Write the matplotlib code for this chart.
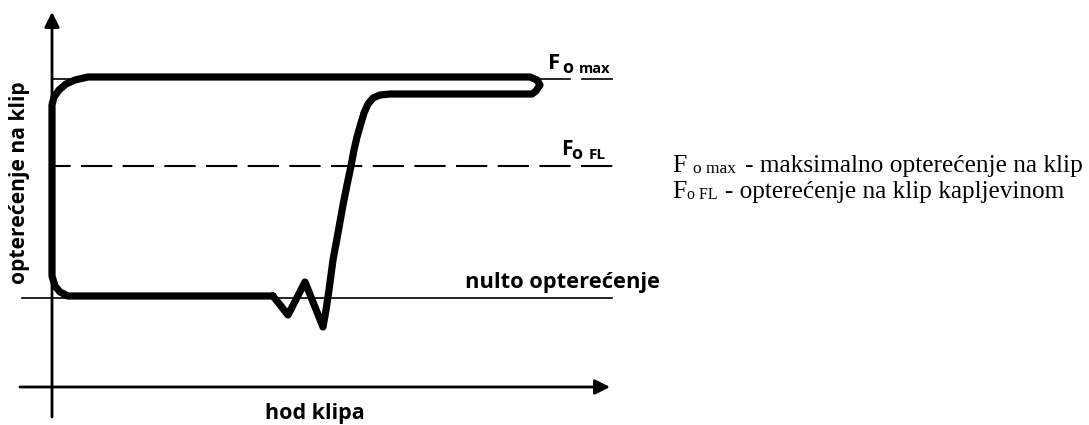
import matplotlib
matplotlib.use("Agg")
import matplotlib.pyplot as plt

# ---- data (stroke / load, arbitrary units, origin at axis crossing) ----
stroke = [221, 16, 8, 3, 0, 0, 2, 7, 14, 23, 36, 478, 485, 488, 484, 480,
          338, 328, 321, 316, 312, 309, 305, 302, 299, 295, 291, 286, 281,
          277, 274, 271, 253, 236, 221]
load = [91, 91, 95, 101, 111, 282, 290, 297, 303, 307, 310, 310, 307, 302,
        296, 293, 293, 292, 289, 283, 274, 264, 250, 237, 221, 202, 182, 154,
        127, 97, 77, 60, 105, 72, 91]

F_max = 308
F_FL = 221
F_zero = 89

x_axis_range = [-32, 558]
y_axis_range = [-30, 375]

fig = plt.figure(figsize=(10.89, 4.25), dpi=100)
ax = fig.add_axes([0, 0, 1, 1])
ax.set_xlim(-52, 1037)
ax.set_ylim(-38, 387)
ax.axis("off")

# axes arrows
ax.annotate("", xy=(x_axis_range[1], 0), xytext=(x_axis_range[0], 0),
            arrowprops=dict(arrowstyle="-|>,head_length=0.9,head_width=0.45",
                            lw=2.0, color="black", mutation_scale=10,
                            shrinkA=0, shrinkB=0))
ax.annotate("", xy=(0, y_axis_range[1]), xytext=(0, y_axis_range[0]),
            arrowprops=dict(arrowstyle="-|>,head_length=0.9,head_width=0.45",
                            lw=2.0, color="black", mutation_scale=10,
                            shrinkA=0, shrinkB=0))

# reference lines
ax.plot([0, 518], [F_max, F_max], color="black", lw=1.2)
ax.plot([530, 560], [F_max, F_max], color="black", lw=1.2)
ax.plot([3, 561], [F_FL, F_FL], color="black", lw=1.5,
        linestyle=(7.5, (15, 5)))
ax.plot([-30, 560], [F_zero, F_zero], color="black", lw=1.2)

# dynamometer card
ax.plot(stroke, load, color="black", lw=5.2, solid_joinstyle="round",
        solid_capstyle="round")

renderer = fig.canvas.get_renderer()


def fit(t, width_px, vertical=False):
    bb = t.get_window_extent(renderer)
    w = bb.height if vertical else bb.width
    t.set_fontsize(t.get_fontsize() * width_px / w)


sans = "Open Sans"
serif = "Liberation Serif"

# labels in the chart
t = ax.text(413, 99, "nulto opterećenje", family=sans, weight="bold",
            fontsize=13, ha="left", va="baseline")
fit(t, 193)
t = ax.text(263, -32, "hod klipa", family=sans, weight="bold",
            fontsize=13, ha="center", va="baseline")
fit(t, 99)
t = ax.text(-32, 204, "opterećenje na klip", family=sans, weight="bold",
            fontsize=13, ha="center", va="center", rotation=90)
fit(t, 200, vertical=True)

ax.text(496, 318, "F", family=sans, weight="bold", fontsize=16,
        ha="left", va="baseline")
ax.text(510, 314, "o", family=sans, weight="bold", fontsize=13,
        ha="left", va="baseline")
ax.text(527, 314, "max", family=sans, weight="bold", fontsize=10.5,
        ha="left", va="baseline")
ax.text(509, 232, "F", family=sans, weight="bold", fontsize=15,
        ha="left", va="baseline")
ax.text(519, 228, "o", family=sans, weight="bold", fontsize=13,
        ha="left", va="baseline")
ax.text(537, 228, "FL", family=sans, weight="bold", fontsize=11,
        ha="left", va="baseline")

# legend text on the right
ax.text(620, 215, "F", family=serif, fontsize=18.5, ha="left", va="baseline")
ax.text(641, 214, "o max", family=serif, fontsize=12.5, ha="left",
        va="baseline")
t = ax.text(693, 215, "- maksimalno opterećenje na klip", family=serif,
            fontsize=18.5, ha="left", va="baseline")
fit(t, 340)
ax.text(620, 189, "F", family=serif, fontsize=18.5, ha="left", va="baseline")
ax.text(635, 188, "o FL", family=serif, fontsize=11.5, ha="left",
        va="baseline")
t = ax.text(673, 189, "- opterećenje na klip kapljevinom", family=serif,
            fontsize=18.5, ha="left", va="baseline")
fit(t, 342)

fig.savefig("out.png", dpi=100)
